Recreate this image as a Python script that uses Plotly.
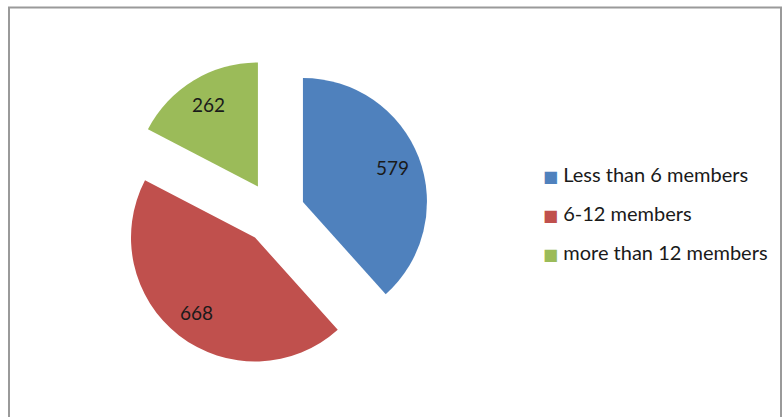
import math
import plotly.graph_objects as go

# Household size groups and their counts
categories = ["Less than 6 members", "6-12 members", "more than 12 members"]
counts = [579, 668, 262]
colors = ["#4F81BD", "#C0504D", "#9BBB59"]

W, H = 783, 417
FONT = "Lato"
PULL = 0.25
LABEL_R = 1.02  # label distance from the pie centre, in radii

dom_x = [119 / W, 429 / W]
dom_y = [0.11751, 0.86091]

fig = go.Figure()

fig.add_trace(go.Pie(
    labels=categories,
    values=counts,
    sort=False,
    direction="clockwise",
    rotation=0,
    pull=[PULL] * len(counts),
    marker=dict(colors=colors, line=dict(width=0)),
    textinfo="none",
    showlegend=False,
    hoverinfo="label+value",
    domain=dict(x=dom_x, y=dom_y),
))

# Value labels placed along each slice's mid-angle
box_w = (dom_x[1] - dom_x[0]) * W
box_h = (dom_y[1] - dom_y[0]) * H
radius = min(box_w, box_h) / (2 + 2 * PULL)
cx = (dom_x[0] + dom_x[1]) / 2 * W
cy = (1 - (dom_y[0] + dom_y[1]) / 2) * H
total = sum(counts)
start = 0.0
annotations = []
for v in counts:
    mid = (start + v / 2) / total * 2 * math.pi
    start += v
    px = cx + LABEL_R * radius * math.sin(mid)
    py = cy - LABEL_R * radius * math.cos(mid)
    annotations.append(dict(
        x=px / W, y=1 - py / H, xref="paper", yref="paper",
        text=str(v), showarrow=False,
        font=dict(family=FONT, size=19, color="#1a1a1a"),
        xanchor="center", yanchor="middle",
    ))

# Legend entries: one empty trace per category, each in its own group so the
# group gap sets the row spacing
for name, col in zip(categories, colors):
    fig.add_trace(go.Scatter(
        x=[None], y=[None],
        mode="markers",
        marker=dict(symbol="square", size=1, color="rgba(0,0,0,0)"),
        name=(f'<span style="color:{col};font-family:\'DejaVu Sans\';'
              f'font-size:16px">■</span> {name}'),
        legendgroup=name,
        showlegend=True,
    ))

fig.update_layout(
    width=W, height=H,
    margin=dict(l=0, r=0, t=0, b=0),
    paper_bgcolor="white",
    plot_bgcolor="white",
    xaxis=dict(visible=False),
    yaxis=dict(visible=False),
    showlegend=True,
    legend=dict(
        x=503 / W, y=1 - 155 / H,
        xanchor="left", yanchor="top",
        font=dict(family=FONT, size=20, color="#1a1a1a"),
        tracegroupgap=10,
        bgcolor="rgba(0,0,0,0)",
        itemclick=False, itemdoubleclick=False,
    ),
    annotations=annotations,
    shapes=[dict(
        type="rect", xref="paper", yref="paper",
        x0=9 / W, x1=781 / W, y0=-0.05, y1=1 - 7.5 / H,
        line=dict(color="#9a9a9a", width=2),
        fillcolor="rgba(0,0,0,0)",
        layer="above",
    )],
)

fig.write_html("out.html")
